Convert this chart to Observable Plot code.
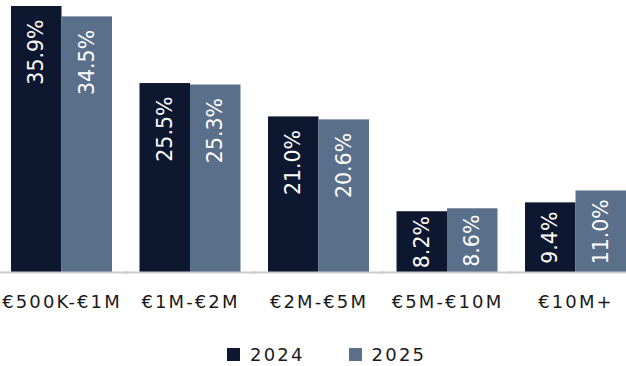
<!DOCTYPE html>
<html>
<head>
<meta charset="utf-8">
<script src="https://cdn.jsdelivr.net/npm/d3@7"></script>
<script src="https://cdn.jsdelivr.net/npm/@observablehq/plot@0.6"></script>
<style>
  body { margin: 0; background: #fff; font-family: "DejaVu Sans", sans-serif; }
  #chart svg { display: block; }
  g[aria-label="fx-axis tick label"] text { letter-spacing: 2.1px; }
  .legend { display: flex; justify-content: flex-start; align-items: center; height: 48px; padding-left: 227px; color: #1a1a1a; font-size: 18px; letter-spacing: 2.2px; }
  .legend .item { display: flex; align-items: center; margin-right: 44px; }
  .legend .sw { width: 13px; height: 13px; margin-right: 10px; }
</style>
</head>
<body>
<div id="chart"></div>
<script>
const categories = ["€500K-€1M", "€1M-€2M", "€2M-€5M", "€5M-€10M", "€10M+"];
const years = ["2024", "2025"];
const values2024 = [35.9, 25.5, 21.0, 8.2, 9.4];
const values2025 = [34.5, 25.3, 20.6, 8.6, 11.0];
const colors = ["#0e1730", "#5a6f8a"];

const data = [];
categories.forEach((c, i) => {
  data.push({cat: c, year: years[0], value: values2024[i]});
  data.push({cat: c, year: years[1], value: values2025[i]});
});

const fmt = d => d.value.toFixed(1) + "%";
const labelOpts = {fx: "cat", x: "year", text: fmt, rotate: -90, lineAnchor: "middle", fill: "white", fontSize: 20.5};

const chart = Plot.plot({
  width: 626,
  height: 330,
  marginTop: 6,
  marginBottom: 58,
  marginLeft: 0,
  marginRight: 0,
  style: {fontFamily: '"DejaVu Sans", sans-serif', fontSize: "18px", color: "#1a1a1a", overflow: "visible"},
  fx: {domain: categories, paddingInner: 0.214, paddingOuter: 0.0428, align: 1, round: false, label: null},
  x: {domain: years, axis: null, padding: 0, round: false},
  y: {domain: [0, 35.9], axis: null},
  color: {domain: years, range: colors},
  marks: [
    Plot.barY(data, {fx: "cat", x: "year", y: "value", fill: "year"}),
    Plot.ruleY([0], {stroke: "#cccccc", strokeWidth: 2, insetLeft: -16, insetRight: -16}),
    // tall bars: label near the top of the bar
    Plot.text(data.filter(d => d.value > 15), {...labelOpts, y: "value", textAnchor: "end", dy: 13}),
    // short bars: label centred in the bar
    Plot.text(data.filter(d => d.value <= 15), {...labelOpts, y: d => d.value / 2, textAnchor: "middle"}),
    Plot.axisFx({anchor: "bottom", tickSize: 0, tickPadding: 23, fontSize: 18, fill: "#1a1a1a", label: null})
  ]
});
document.getElementById("chart").append(chart);

const legend = document.createElement("div");
legend.className = "legend";
years.forEach((y, i) => {
  const item = document.createElement("div");
  item.className = "item";
  const sw = document.createElement("span");
  sw.className = "sw";
  sw.style.background = colors[i];
  const t = document.createElement("span");
  t.textContent = y;
  item.append(sw, t);
  legend.append(item);
});
document.body.append(legend);
</script>
</body>
</html>
